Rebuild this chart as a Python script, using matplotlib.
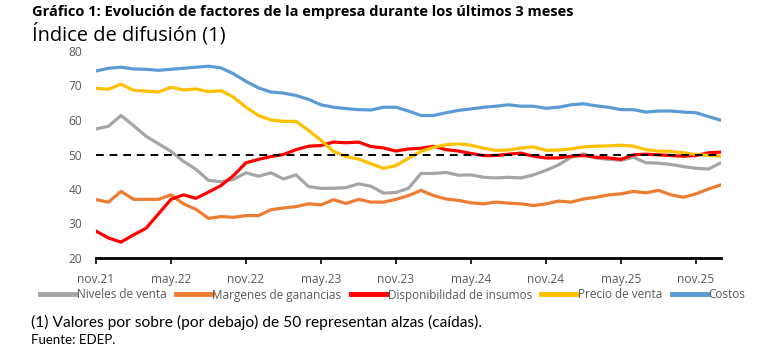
import matplotlib.pyplot as plt
from matplotlib.lines import Line2D

plt.rcParams['font.family'] = ['Open Sans', 'DejaVu Sans']

# monthly data, nov.21 .. jan.26
tick_labels = ['nov.21', 'may.22', 'nov.22', 'may.23', 'nov.23',
               'may.24', 'nov.24', 'may.25', 'nov.25']

niveles_venta = [57.4, 58.2, 61.3, 58.4, 55.3, 53.1, 50.9, 48.0, 45.7, 42.5,
                 42.1, 42.8, 44.7, 43.7, 44.7, 42.9, 44.1, 40.7, 40.2, 40.2,
                 40.4, 41.5, 40.8, 38.8, 39.0, 40.2, 44.5, 44.5, 44.8, 44.0,
                 44.1, 43.4, 43.2, 43.4, 43.2, 44.1, 45.4, 47.0, 49.2, 50.2,
                 49.0, 48.6, 48.3, 49.2, 47.6, 47.5, 47.1, 46.5, 46.0, 45.8,
                 47.6]
margenes = [36.9, 36.2, 39.3, 37.0, 37.0, 37.0, 38.3, 35.7, 34.1, 31.5,
            32.0, 31.8, 32.3, 32.3, 34.0, 34.5, 34.9, 35.7, 35.4, 36.9,
            35.8, 37.0, 36.2, 36.2, 37.0, 38.1, 39.6, 38.1, 37.1, 36.7,
            36.0, 35.7, 36.2, 35.9, 35.7, 35.2, 35.7, 36.5, 36.2, 37.1,
            37.6, 38.3, 38.6, 39.3, 38.9, 39.6, 38.3, 37.6, 38.6, 40.0,
            41.2]
disponibilidad = [27.8, 25.8, 24.6, 26.7, 28.6, 32.8, 37.0, 38.3, 37.3, 39.1,
                  41.0, 43.9, 47.6, 48.6, 49.4, 50.0, 51.4, 52.4, 52.6, 53.6,
                  53.4, 53.6, 52.3, 51.9, 51.0, 51.6, 51.8, 52.4, 51.4, 51.0,
                  50.3, 49.7, 49.7, 50.1, 50.4, 49.5, 49.0, 49.0, 49.5, 49.7,
                  49.2, 49.0, 48.6, 49.9, 50.1, 49.9, 49.7, 49.5, 49.7, 50.5,
                  50.7]
precio_venta = [69.2, 68.9, 70.4, 68.6, 68.4, 68.1, 69.5, 68.7, 69.0, 68.2,
                68.5, 66.6, 63.7, 61.3, 60.0, 59.6, 59.6, 57.0, 54.1, 50.9,
                49.4, 48.7, 47.3, 46.0, 46.8, 48.9, 50.9, 52.1, 52.8, 53.1,
                52.7, 51.8, 51.2, 51.3, 51.9, 52.2, 51.2, 51.3, 51.6, 52.2,
                52.4, 52.5, 52.7, 52.4, 51.4, 51.0, 50.9, 50.5, 50.0, 49.8,
                49.5]
costos = [74.2, 75.0, 75.3, 74.8, 74.7, 74.4, 74.7, 75.0, 75.3, 75.6,
          75.1, 73.4, 71.2, 69.3, 68.1, 67.8, 67.1, 66.0, 64.4, 63.7,
          63.3, 63.0, 62.9, 63.7, 63.7, 62.6, 61.3, 61.3, 62.1, 62.8,
          63.2, 63.7, 64.0, 64.4, 64.0, 64.0, 63.4, 63.7, 64.4, 64.7,
          64.1, 63.7, 63.0, 63.0, 62.3, 62.6, 62.6, 62.3, 62.1, 61.0,
          59.9]

series = [('Niveles de venta', niveles_venta, '#A5A5A5'),
          ('Margenes de ganancias', margenes, '#ED7D31'),
          ('Disponibilidad de insumos', disponibilidad, '#FF0000'),
          ('Precio de venta', precio_venta, '#FFC000'),
          ('Costos', costos, '#5B9BD5')]

title = 'Gráfico 1: Evolución de factores de la empresa durante los últimos 3 meses'
subtitle = 'Índice de difusión (1)'
note = '(1) Valores por sobre (por debajo) de 50 representan alzas (caídas).'
source = 'Fuente: EDEP.'

fig = plt.figure(figsize=(7.62, 3.52), dpi=100)
renderer = fig.canvas.get_renderer()

# pick a font size so a string is about as wide (px) as in the reference
def fit_size(text, width_px, **kw):
    t = fig.text(0, 0, text, fontsize=10, **kw)
    w = t.get_window_extent(renderer).width
    t.remove()
    return 10 * width_px / w

lato = ['Lato', 'DejaVu Sans']
tick_size = fit_size('nov.21', 37)
leg_size = fit_size('Niveles de venta', 90)
leg_px = leg_size * 100 / 72

x = list(range(len(costos)))
ax = fig.add_axes([96/762, 1 - 258/352, 625/762, 207/352])

for name, vals, col in series:
    ax.plot(x, vals, color=col, lw=2.3, solid_joinstyle='round', label=name)
ax.plot(x, [50] * len(x), color='black', lw=1.4, ls=(0, (4, 3)))

ax.set_xlim(0, len(x) - 1)
ax.set_ylim(20, 80)
ax.set_xticks(range(0, len(x), 6))
ax.set_xticklabels(tick_labels)
ax.set_yticks(range(20, 81, 10))
ax.tick_params(axis='x', length=4, width=1.2, color='black', pad=7,
               labelsize=tick_size, labelcolor='#595959')
ax.tick_params(axis='y', length=0, pad=10, labelsize=tick_size,
               labelcolor='#595959')
for s in ['top', 'right', 'left']:
    ax.spines[s].set_visible(False)
ax.spines['bottom'].set_linewidth(2)

leg_handles = [Line2D([], [], color=c, lw=3.5) for _, _, c in series]
fig.legend(leg_handles, [n for n, _, _ in series], loc='center left',
           bbox_to_anchor=(40/762, 1 - 295/352), ncol=5, frameon=False,
           borderpad=0, borderaxespad=0, fontsize=leg_size,
           handlelength=36 / leg_px, handletextpad=0.05,
           columnspacing=9.5 / leg_px, labelcolor='#595959')

fig.text(32/762, 1 - 12/352, title, fontsize=fit_size(title, 545, fontweight='bold'),
         fontweight='bold', va='center')
fig.text(32/762, 1 - 34/352, subtitle, fontsize=fit_size(subtitle, 194),
         va='center')
fig.text(31/762, 1 - 322/352, note, fontsize=fit_size(note, 452, family=lato),
         va='center', family=lato)
fig.text(31/762, 1 - 340/352, source, fontsize=fit_size(source, 84, family=lato),
         va='center', family=lato)

fig.savefig('out.png', dpi=100)
